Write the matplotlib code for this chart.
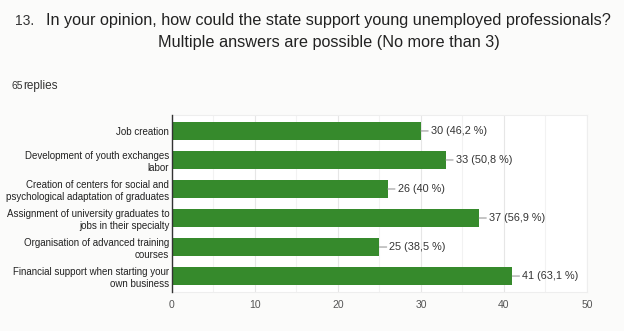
import matplotlib.pyplot as plt
import matplotlib as mpl

mpl.rcParams['font.family'] = ['Liberation Sans', 'DejaVu Sans']

# answers and counts
labels = ['Job creation',
          'Development of youth exchanges\nlabor',
          'Creation of centers for social and\npsychological adaptation of graduates',
          'Assignment of university graduates to\njobs in their specialty',
          'Organisation of advanced training\ncourses',
          'Financial support when starting your\nown business']
counts = [30, 33, 26, 37, 25, 41]
percents = ['46,2', '50,8', '40', '56,9', '38,5', '63,1']
xticks = [0, 10, 20, 30, 40, 50]

bg = '#fbfbfa'
green = '#368a2c'

fig = plt.figure(figsize=(6.24, 3.31), dpi=100, facecolor=bg)

fig.text(0.024, 0.925, '13.', fontsize=10, color='#333333')
fig.text(0.527, 0.925, 'In your opinion, how could the state support young unemployed professionals?',
         fontsize=11.7, ha='center', color='#222222')
fig.text(0.527, 0.857, 'Multiple answers are possible (No more than 3)',
         fontsize=11.7, ha='center', color='#222222')
fig.text(0.018, 0.73, '65', fontsize=7.5, color='#333333')
fig.text(0.038, 0.73, 'replies', fontsize=8.5, color='#333333')

ax = fig.add_axes([0.2756, 0.1178, 0.6651, 0.5348], facecolor='white')

ypos = list(range(len(labels)))
ax.barh(ypos, counts, height=0.62, color=green, zorder=3)

for y, c, p in zip(ypos, counts, percents):
    ax.annotate(f'{c} ({p} %)', xy=(c, y), xytext=(c + 1.2, y),
                va='center', ha='left', fontsize=7.8, color='#333333',
                arrowprops=dict(arrowstyle='-', color='#999999', lw=0.8,
                                shrinkA=0, shrinkB=0))

ax.set_ylim(len(labels) - 0.45, -0.55)
ax.set_xlim(0, 50)
ax.set_yticks(ypos)
ax.set_yticklabels(labels, fontsize=7.0, color='#222222')
ax.set_xticks(xticks)
ax.set_xticklabels([str(t) for t in xticks], fontsize=7.5, color='#555555')
ax.set_xticks(range(5, 50, 10), minor=True)
ax.grid(axis='x', which='major', color='#e6e6e6', lw=0.8, zorder=0)
ax.grid(axis='x', which='minor', color='#f2f2f2', lw=0.8, zorder=0)
ax.tick_params(axis='both', which='both', length=0)
ax.tick_params(axis='x', pad=6)
ax.tick_params(axis='y', pad=2)

for s in ['top', 'right', 'bottom']:
    ax.spines[s].set_color('#eeeeee')
ax.spines['left'].set_color('#333333')
ax.spines['left'].set_linewidth(1.0)
ax.spines['left'].set_zorder(4)

fig.savefig('out.png', dpi=100, facecolor=bg)
